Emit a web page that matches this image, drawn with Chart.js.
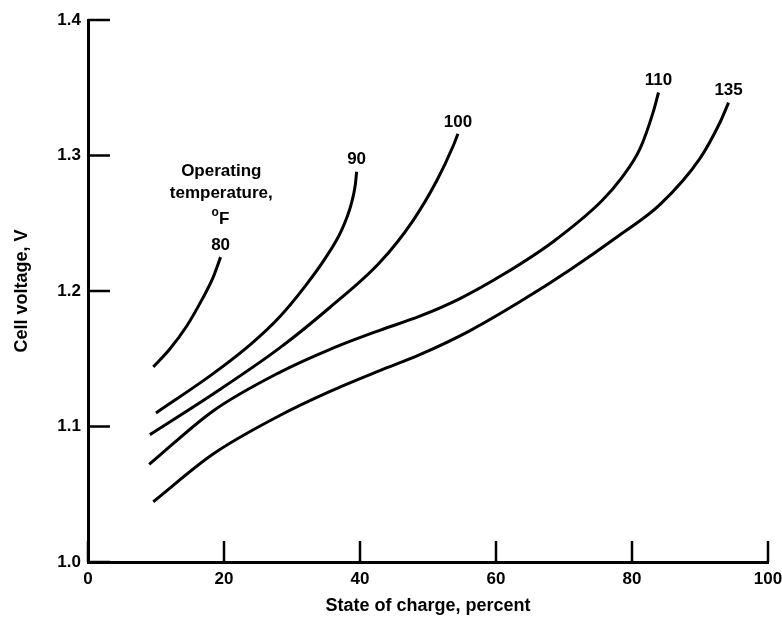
<!DOCTYPE html>
<html>
<head>
<meta charset="utf-8">
<script src="https://cdn.jsdelivr.net/npm/chart.js@4"></script>
<style>
  html, body { margin: 0; padding: 0; background: #fff; }
  #wrap { width: 782px; height: 622px; }
</style>
</head>
<body>
<div id="wrap"><canvas id="myChart"></canvas></div>
<script>
// tick values
const xTicks = [0, 20, 40, 60, 80, 100];
const yTicks = [1.0, 1.1, 1.2, 1.3, 1.4];

// operating temperature, deg F (curve labels)
const temps = ["80", "90", "100", "110", "135"];

// state of charge (percent) / cell voltage (V)
const soc80 = [9.6, 12.0, 14.5, 16.8, 18.4, 19.5];
const volt80 = [1.144, 1.157, 1.174, 1.194, 1.210, 1.225];

const soc90 = [10.0, 18.4, 24.0, 28.2, 32.0, 35.0, 37.3, 38.7, 39.3, 39.5];
const volt90 = [1.110, 1.139, 1.161, 1.181, 1.204, 1.225, 1.245, 1.264, 1.278, 1.288];

const soc100 = [9.1, 18.4, 28.2, 35.6, 42.9, 47.8, 51.3, 53.7, 54.4];
const volt100 = [1.094, 1.124, 1.158, 1.188, 1.221, 1.252, 1.2815, 1.307, 1.316];

const soc110 = [9.0, 18.4, 28.2, 35.6, 42.9, 48.8, 54.7, 61.1, 68.4, 75.5, 78.5, 81.2, 83.1, 83.9];
const volt110 = [1.072, 1.1115, 1.140, 1.157, 1.171, 1.1814, 1.1944, 1.2123, 1.2364, 1.2662, 1.2836, 1.3052, 1.3318, 1.3465];

const soc135 = [9.6, 18.4, 28.2, 35.6, 42.9, 48.8, 56.2, 63.5, 70.9, 78.2, 84.1, 90.0, 92.9, 94.2];
const volt135 = [1.0445, 1.0797, 1.1081, 1.1259, 1.1412, 1.153, 1.1708, 1.192, 1.2157, 1.2413, 1.2637, 1.2979, 1.324, 1.339];

const allSoc = [soc80, soc90, soc100, soc110, soc135];
const allVolt = [volt80, volt90, volt100, volt110, volt135];

const FONT = "'Liberation Sans', Arial, sans-serif";

const datasets = temps.map((t, i) => ({
  label: t + " F",
  data: allSoc[i].map((x, j) => ({ x: x, y: allVolt[i][j] })),
  borderColor: "#000",
  borderWidth: 3,
  pointRadius: 0,
  fill: false,
  cubicInterpolationMode: "monotone",
}));

// inward tick marks + curve labels + note text
const annotations = {
  id: "annotations",
  afterDraw: (chart) => {
    const { ctx, chartArea, scales } = chart;
    const xs = scales.x;
    const ys = scales.y;
    ctx.save();
    ctx.strokeStyle = "#000";
    ctx.lineWidth = 2.5;
    ctx.beginPath();
    yTicks.forEach((v) => {
      const py = ys.getPixelForValue(v);
      ctx.moveTo(chartArea.left, py);
      ctx.lineTo(chartArea.left + 22, py);
    });
    xTicks.forEach((v) => {
      const px = xs.getPixelForValue(v);
      ctx.moveTo(px, chartArea.bottom);
      ctx.lineTo(px, chartArea.bottom - 21);
    });
    ctx.stroke();

    ctx.fillStyle = "#000";
    ctx.textAlign = "center";
    ctx.textBaseline = "middle";
    ctx.font = "bold 17px " + FONT;
    temps.forEach((t, i) => {
      const n = allSoc[i].length - 1;
      const px = xs.getPixelForValue(allSoc[i][n]);
      const py = ys.getPixelForValue(allVolt[i][n]);
      ctx.fillText(t, px, py - 12);
    });

    ctx.font = "bold 17px " + FONT;
    const cx = xs.getPixelForValue(19.6);
    ctx.fillText("Operating", cx, ys.getPixelForValue(1.2886));
    ctx.fillText("temperature,", cx, ys.getPixelForValue(1.2723));
    ctx.fillText("F", cx + 3, ys.getPixelForValue(1.2530));
    ctx.font = "bold 12px " + FONT;
    ctx.fillText("o", cx - 6, ys.getPixelForValue(1.2575));
    ctx.restore();
  },
};

new Chart(document.getElementById("myChart"), {
  type: "line",
  data: { datasets: datasets },
  options: {
    responsive: true,
    maintainAspectRatio: false,
    animation: false,
    layout: { padding: { top: 20, right: 14, left: 0, bottom: 0 } },
    plugins: {
      legend: { display: false },
      tooltip: { enabled: false },
    },
    scales: {
      x: {
        type: "linear",
        min: 0,
        max: 100,
        afterFit: (s) => {
          s.height = 60;
          s.paddingLeft = 0;
          s.paddingRight = 0;
        },
        afterBuildTicks: (s) => { s.ticks = xTicks.map((v) => ({ value: v })); },
        grid: { display: false, drawTicks: false },
        border: { display: true, color: "#000", width: 3 },
        ticks: {
          color: "#000",
          padding: 7,
          font: { family: FONT, size: 17, weight: "bold" },
        },
        title: {
          display: true,
          text: "State of charge, percent",
          color: "#000",
          font: { family: FONT, size: 18, weight: "bold" },
          padding: { top: 0, bottom: 5 },
        },
      },
      y: {
        type: "linear",
        min: 1.0,
        max: 1.4,
        afterFit: (s) => {
          s.width = 88;
          s.paddingTop = 0;
          s.paddingBottom = 0;
        },
        afterBuildTicks: (s) => { s.ticks = yTicks.map((v) => ({ value: v })); },
        grid: { display: false, drawTicks: false },
        border: { display: true, color: "#000", width: 3 },
        ticks: {
          color: "#000",
          padding: 7,
          font: { family: FONT, size: 17, weight: "bold" },
          callback: (v) => v.toFixed(1),
        },
        title: {
          display: true,
          text: "Cell voltage, V",
          color: "#000",
          font: { family: FONT, size: 18, weight: "bold" },
          padding: { top: 11, bottom: 0 },
        },
      },
    },
  },
  plugins: [annotations],
});
</script>
</body>
</html>
